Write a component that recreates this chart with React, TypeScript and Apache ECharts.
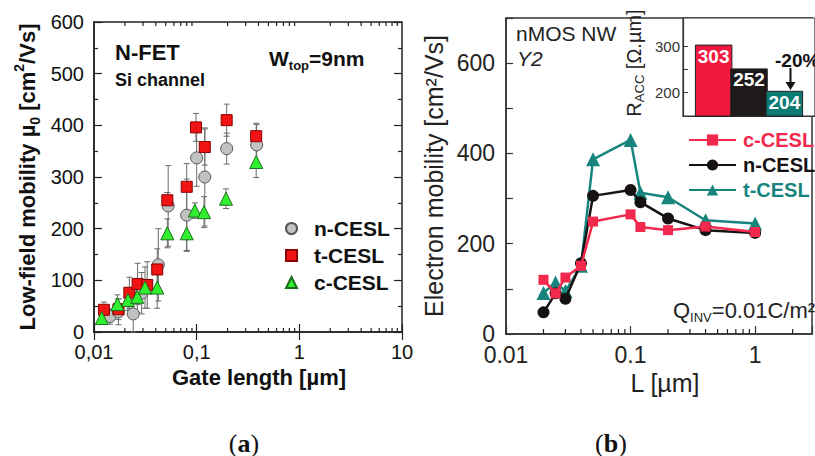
import React, { useEffect, useRef } from "react";
import * as echarts from "echarts";

const SANS = "'Liberation Sans', Arial, Helvetica, sans-serif";
const SERIF = "'Liberation Serif', 'Times New Roman', serif";

// ---------- Panel (a): low-field mobility vs gate length ----------
const nCeslL = [0.0143, 0.0173, 0.0241, 0.0291, 0.0423, 0.0528, 0.08, 0.1, 0.12, 0.196, 0.384];
const nCeslMu = [30, 39, 35, 75, 130, 244, 226, 337, 300, 355, 362];
const nCeslErr = [15, 25, 35, 40, 70, 78, 70, 55, 95, 30, 40];

const tCeslL = [0.0125, 0.0173, 0.0221, 0.0266, 0.033, 0.0413, 0.0518, 0.08, 0.0985, 0.12, 0.196, 0.38];
const tCeslMu = [43, 44, 76, 93, 91, 121, 255, 281, 396, 358, 410, 379];
const tCeslErr = [15, 20, 30, 40, 45, 40, 15, 45, 27, 35, 31, 25];

const cCeslL = [0.0119, 0.0169, 0.0214, 0.0264, 0.0314, 0.0413, 0.0518, 0.08, 0.096, 0.118, 0.193, 0.38];
const cCeslMu = [27, 54, 62, 68, 86, 86, 191, 191, 235, 232, 258, 329];
const cCeslErr = [10, 18, 20, 30, 40, 40, 28, 33, 15, 30, 19, 30];

const xLabelsA = ["0,01", "0,1", "1", "10"];
const minorTicksA = [0.02, 0.03, 0.04, 0.05, 0.06, 0.07, 0.08, 0.09, 0.2, 0.3, 0.4, 0.5, 0.6, 0.7, 0.8, 0.9, 2, 3, 4, 5, 6, 7, 8, 9];

// ---------- Panel (b): electron mobility vs L ----------
const lengthB = [0.02, 0.025, 0.03, 0.04, 0.05, 0.1, 0.12, 0.2, 0.4, 1];
const cMobB = [120, 90, 125, 151, 249, 265, 237, 230, 238, 226];
const nMobB = [48, 90, 78, 157, 306, 319, 292, 256, 230, 224];
const tMobB = [91, 114, 95, 151, 387, 430, 313, 303, 252, 245];

const xLabelsB = ["0.01", "0.1", "1"];
const minorTicksB = [0.02, 0.03, 0.04, 0.05, 0.06, 0.07, 0.08, 0.09, 0.2, 0.3, 0.4, 0.5, 0.6, 0.7, 0.8, 0.9, 2];

// ---------- Inset: access resistance ----------
const raccNames = ["c-CESL", "n-CESL", "t-CESL"];
const raccValues = [303, 252, 204];
const raccColors = ["#f3183d", "#1e1a1a", "#0c7b74"];

const RED_B = "#f2294d";
const BLACK_B = "#161214";
const TEAL_B = "#17857d";

function pairs(x: number[], y: number[]) {
  return x.map((v, i) => [v, y[i]]);
}
function triples(x: number[], y: number[], e: number[]) {
  return x.map((v, i) => [v, y[i], e[i]]);
}

function logLabel(labels: string[]) {
  return (v: number) => {
    const e = Math.log10(v);
    const r = Math.round(e);
    if (Math.abs(e - r) > 1e-6) return "";
    return labels[r + 2] ?? "";
  };
}

const errorRender = (params: any, api: any) => {
  const x = api.value(0);
  const y = api.value(1);
  const e = api.value(2);
  const hi = api.coord([x, y + e]);
  const lo = api.coord([x, y - e]);
  const style = { stroke: "#6a6a6a", lineWidth: 1 };
  return {
    type: "group",
    children: [
      { type: "line", shape: { x1: hi[0], y1: hi[1], x2: lo[0], y2: lo[1] }, style },
      { type: "line", shape: { x1: hi[0] - 3, y1: hi[1], x2: hi[0] + 3, y2: hi[1] }, style },
      { type: "line", shape: { x1: lo[0] - 3, y1: lo[1], x2: lo[0] + 3, y2: lo[1] }, style },
    ],
  };
};

const tickRender = (len: number) => (params: any, api: any) => {
  const p = api.coord([api.value(0), api.value(1)]);
  const d = api.value(2);
  return {
    type: "line",
    shape: { x1: p[0], y1: p[1], x2: p[0], y2: p[1] - d * len },
    style: { stroke: "#222", lineWidth: 1.2 },
  };
};

export default function App() {
  const ref = useRef<HTMLDivElement>(null);

  useEffect(() => {
    const chart = echarts.init(ref.current!, null, { renderer: "svg" });

    const axisLineA = { show: true, onZero: false, lineStyle: { color: "#222", width: 1.5 } };
    const axisLineB = { show: true, onZero: false, lineStyle: { color: "#333", width: 1.5 } };

    const option: any = {
      animation: false,
      backgroundColor: "#fff",
      grid: [
        { left: 94, top: 22, width: 308, height: 310, show: true, borderColor: "#222", borderWidth: 1.5 },
        { left: 506, top: 18, width: 312, height: 316, show: true, borderColor: "#333", borderWidth: 1.5 },
        { left: 683, top: 18, width: 140, height: 98, show: true, borderColor: "#333", borderWidth: 1.2, backgroundColor: "#fff" },
      ],
      xAxis: [
        {
          gridIndex: 0, type: "log", logBase: 10, min: 0.01, max: 10,
          axisLine: axisLineA,
          axisTick: { inside: true, length: 8, lineStyle: { color: "#222", width: 1.2 } },
          axisLabel: { formatter: logLabel(xLabelsA), fontFamily: SANS, fontSize: 20, color: "#111", margin: 10 },
          splitLine: { show: false },
          name: "Gate length [µm]", nameLocation: "middle", nameGap: 30,
          nameTextStyle: { fontFamily: SANS, fontSize: 22, fontWeight: "bold", color: "#111", padding: [0, 0, 0, 22] },
        },
        {
          gridIndex: 0, type: "log", logBase: 10, min: 0.01, max: 10, position: "top",
          axisLine: { show: false },
          axisTick: { inside: true, length: 8, lineStyle: { color: "#222", width: 1.2 } },
          axisLabel: { show: false }, splitLine: { show: false },
        },
        {
          gridIndex: 1, type: "log", logBase: 10, min: 0.01, max: 2.862,
          axisLine: axisLineB,
          axisTick: { inside: true, length: 8, lineStyle: { color: "#333", width: 1.2 } },
          axisLabel: { formatter: logLabel(xLabelsB), fontFamily: SANS, fontSize: 23, color: "#222", margin: 9 },
          splitLine: { show: false },
          name: "L [µm]", nameLocation: "middle", nameGap: 27,
          nameTextStyle: { fontFamily: SANS, fontSize: 25, color: "#222", padding: [0, 0, 0, 12] },
        },
        {
          gridIndex: 2, type: "value", min: 0.1333, max: 3.8667,
          axisLine: { show: true, onZero: false, lineStyle: { color: "#333", width: 1.2 } },
          axisTick: { show: true, inside: true, length: 4, customValues: [2], lineStyle: { color: "#333" } },
          axisLabel: { show: false }, splitLine: { show: false },
        },
      ],
      yAxis: [
        {
          gridIndex: 0, type: "value", min: 0, max: 600, interval: 100,
          axisLine: axisLineA,
          axisTick: { inside: true, length: 8, lineStyle: { color: "#222", width: 1.2 } },
          minorTick: { show: true, splitNumber: 2, length: 4, lineStyle: { color: "#222", width: 1.2 } },
          axisLabel: { fontFamily: SANS, fontSize: 20, color: "#111", margin: 10 },
          splitLine: { show: false },
          name: "{b|Low-field mobility µ}{s|0}{b| [cm}{p|2}{b|/Vs]}",
          nameLocation: "middle", nameGap: 52, nameRotate: 90,
          nameTextStyle: {
            rich: {
              b: { fontFamily: SANS, fontSize: 22, fontWeight: "bold", color: "#111", lineHeight: 30 },
              s: { fontFamily: SANS, fontSize: 14, fontWeight: "bold", color: "#111", verticalAlign: "bottom", lineHeight: 14 },
              p: { fontFamily: SANS, fontSize: 14, fontWeight: "bold", color: "#111", verticalAlign: "top", lineHeight: 14 },
            },
          },
        },
        {
          gridIndex: 0, type: "value", min: 0, max: 600, interval: 100, position: "right",
          axisLine: { show: false },
          axisTick: { inside: true, length: 8, lineStyle: { color: "#222", width: 1.2 } },
          minorTick: { show: true, splitNumber: 2, length: 4, lineStyle: { color: "#222", width: 1.2 } },
          axisLabel: { show: false }, splitLine: { show: false },
        },
        {
          gridIndex: 1, type: "value", min: 0, max: 700, interval: 100,
          axisLine: axisLineB,
          axisTick: { inside: true, length: 7, lineStyle: { color: "#333", width: 1.2 } },
          axisLabel: {
            formatter: (v: number) => (v % 200 === 0 ? String(v) : ""),
            fontFamily: SANS, fontSize: 23, color: "#222", margin: 11,
          },
          splitLine: { show: false },
          name: "Electron mobility [cm²/Vs]", nameLocation: "middle", nameGap: 60, nameRotate: 90,
          nameTextStyle: { fontFamily: SANS, fontSize: 25, color: "#222" },
        },
        {
          gridIndex: 2, type: "value", min: 150, max: 360, interval: 50,
          axisLine: { show: true, onZero: false, lineStyle: { color: "#333", width: 1.2 } },
          axisTick: { inside: true, length: 5, customValues: [200, 250, 300], lineStyle: { color: "#333" } },
          axisLabel: { customValues: [200, 300], fontFamily: SANS, fontSize: 15, color: "#333", margin: 3 },
          splitLine: { show: false },
          name: "{n|R}{s|ACC}{n| [Ω.µm]}", nameLocation: "middle", nameGap: 37, nameRotate: 90,
          nameTextStyle: {
            padding: [0, 0, 0, 8],
            rich: {
              n: { fontFamily: SANS, fontSize: 20, color: "#222", lineHeight: 24 },
              s: { fontFamily: SANS, fontSize: 13, color: "#222", verticalAlign: "bottom", lineHeight: 13 },
            },
          },
        },
      ],
      legend: [
        {
          data: ["n-CESL", "t-CESL", "c-CESL"],
          orient: "vertical", left: 280, top: 213,
          itemWidth: 11, itemHeight: 11, itemGap: 6, selectedMode: false,
          textStyle: { fontFamily: SANS, fontSize: 21, fontWeight: "bold", color: "#111", lineHeight: 20, padding: [0, 0, 0, 12] },
        },
        {
          data: [
            { name: "c-CESL (b)", textStyle: { color: RED_B } },
            { name: "n-CESL (b)", textStyle: { color: BLACK_B } },
            { name: "t-CESL (b)", textStyle: { color: TEAL_B } },
          ],
          formatter: (name: string) => name.replace(" (b)", ""),
          orient: "vertical", left: 683, top: 125,
          itemWidth: 47, itemHeight: 14, itemGap: 5, selectedMode: false,
          textStyle: { fontFamily: SANS, fontSize: 20, fontWeight: "bold", lineHeight: 20, padding: [0, 0, 0, 2] },
        },
      ],
      series: [
        // error bars (a)
        { type: "custom", name: "err-n", xAxisIndex: 0, yAxisIndex: 0, renderItem: errorRender, data: triples(nCeslL, nCeslMu, nCeslErr), silent: true, z: 1 },
        { type: "custom", name: "err-t", xAxisIndex: 0, yAxisIndex: 0, renderItem: errorRender, data: triples(tCeslL, tCeslMu, tCeslErr), silent: true, z: 1 },
        { type: "custom", name: "err-c", xAxisIndex: 0, yAxisIndex: 0, renderItem: errorRender, data: triples(cCeslL, cCeslMu, cCeslErr), silent: true, z: 1 },
        // markers (a)
        {
          type: "scatter", name: "n-CESL", xAxisIndex: 0, yAxisIndex: 0, symbol: "circle", symbolSize: 12,
          itemStyle: { color: "#c2c2c2", borderColor: "#555", borderWidth: 1, opacity: 1 },
          data: pairs(nCeslL, nCeslMu), z: 3,
        },
        {
          type: "scatter", name: "t-CESL", xAxisIndex: 0, yAxisIndex: 0, symbol: "rect", symbolSize: 11,
          itemStyle: { color: "#f01414", borderColor: "#8a0000", borderWidth: 1, opacity: 1 },
          data: pairs(tCeslL, tCeslMu), z: 4,
        },
        {
          type: "scatter", name: "c-CESL", xAxisIndex: 0, yAxisIndex: 0, symbol: "triangle", symbolSize: 13,
          itemStyle: { color: "#30f030", borderColor: "#1c6e1c", borderWidth: 1, opacity: 1 },
          data: pairs(cCeslL, cCeslMu), z: 5,
        },
        // minor ticks
        { type: "custom", name: "mt-a-bottom", xAxisIndex: 0, yAxisIndex: 0, renderItem: tickRender(4), data: minorTicksA.map((v) => [v, 0, 1]), silent: true },
        { type: "custom", name: "mt-a-top", xAxisIndex: 0, yAxisIndex: 0, renderItem: tickRender(4), data: minorTicksA.map((v) => [v, 600, -1]), silent: true },
        { type: "custom", name: "mt-b-bottom", xAxisIndex: 2, yAxisIndex: 2, renderItem: tickRender(5), data: minorTicksB.map((v) => [v, 0, 1]), silent: true },
        // lines (b)
        {
          type: "line", name: "t-CESL (b)", xAxisIndex: 2, yAxisIndex: 2, symbol: "triangle", symbolSize: 14,
          lineStyle: { color: TEAL_B, width: 2.5 }, itemStyle: { color: TEAL_B }, data: pairs(lengthB, tMobB), z: 3,
        },
        {
          type: "line", name: "n-CESL (b)", xAxisIndex: 2, yAxisIndex: 2, symbol: "circle", symbolSize: 12,
          lineStyle: { color: BLACK_B, width: 2.5 }, itemStyle: { color: BLACK_B }, data: pairs(lengthB, nMobB), z: 4,
        },
        {
          type: "line", name: "c-CESL (b)", xAxisIndex: 2, yAxisIndex: 2, symbol: "rect", symbolSize: 10,
          lineStyle: { color: RED_B, width: 2.5 }, itemStyle: { color: RED_B }, data: pairs(lengthB, cMobB), z: 5,
        },
        // inset bars
        {
          type: "bar", name: "R_ACC", xAxisIndex: 3, yAxisIndex: 3, barWidth: 37.5, z: 6,
          data: raccValues.map((v, i) => ({ value: [i + 1, v], name: raccNames[i], itemStyle: { color: raccColors[i], borderColor: "#222", borderWidth: 1 } })),
          label: {
            show: true, position: "insideTop", distance: 2,
            formatter: (p: any) => String(p.value[1]),
            fontFamily: SANS, fontSize: 19, fontWeight: "bold", color: "#fff",
          },
        },
      ],
      graphic: [
        { type: "text", x: 115, y: 52, style: { text: "N-FET", font: `bold 22px ${SANS}`, fill: "#111", textVerticalAlign: "middle" } },
        { type: "text", x: 115, y: 80, style: { text: "Si channel", font: `bold 18px ${SANS}`, fill: "#111", textVerticalAlign: "middle" } },
        {
          type: "text", x: 269, y: 44,
          style: {
            text: "{a|W}{s|top}{a|=9nm}",
            rich: {
              a: { fontFamily: SANS, fontSize: 21, fontWeight: "bold", fill: "#111", lineHeight: 28 },
              s: { fontFamily: SANS, fontSize: 13, fontWeight: "bold", fill: "#111", verticalAlign: "bottom", lineHeight: 13 },
            },
          },
        },
        { type: "text", x: 516, y: 33, style: { text: "nMOS NW", font: `21px ${SANS}`, fill: "#222", textVerticalAlign: "middle" } },
        { type: "text", x: 517, y: 58, style: { text: "Y2", font: `italic 21px ${SANS}`, fill: "#222", textVerticalAlign: "middle" } },
        {
          type: "text", x: 673, y: 296,
          style: {
            text: "{a|Q}{s|INV}{a|=0.01C/m²}",
            rich: {
              a: { fontFamily: SANS, fontSize: 22, fill: "#222", lineHeight: 28 },
              s: { fontFamily: SANS, fontSize: 13, fill: "#222", verticalAlign: "bottom", lineHeight: 13 },
            },
          },
        },
        { type: "text", x: 775, y: 60, z: 20, style: { text: "-20%", font: `bold 19px ${SANS}`, fill: "#111", textVerticalAlign: "middle" } },
        { type: "line", z: 20, shape: { x1: 790.5, y1: 68, x2: 790.5, y2: 84 }, style: { stroke: "#111", lineWidth: 2 } },
        { type: "polygon", z: 20, shape: { points: [[785.5, 82], [795.5, 82], [790.5, 90]] }, style: { fill: "#111" } },
        {
          type: "text", x: 244, y: 443,
          style: {
            text: "{n|(}{b|a}{n|)}", textAlign: "center", textVerticalAlign: "middle",
            rich: {
              n: { fontFamily: SERIF, fontSize: 26, fill: "#111" },
              b: { fontFamily: SERIF, fontSize: 26, fontWeight: "bold", fill: "#111" },
            },
          },
        },
        {
          type: "text", x: 611, y: 443,
          style: {
            text: "{n|(}{b|b}{n|)}", textAlign: "center", textVerticalAlign: "middle",
            rich: {
              n: { fontFamily: SERIF, fontSize: 26, fill: "#111" },
              b: { fontFamily: SERIF, fontSize: 26, fontWeight: "bold", fill: "#111" },
            },
          },
        },
      ],
    };

    chart.setOption(option);
    return () => chart.dispose();
  }, []);

  return (
    <div
      ref={ref}
      style={{ position: "fixed", left: 0, top: 0, width: 815, height: 456, background: "#fff" }}
    />
  );
}
